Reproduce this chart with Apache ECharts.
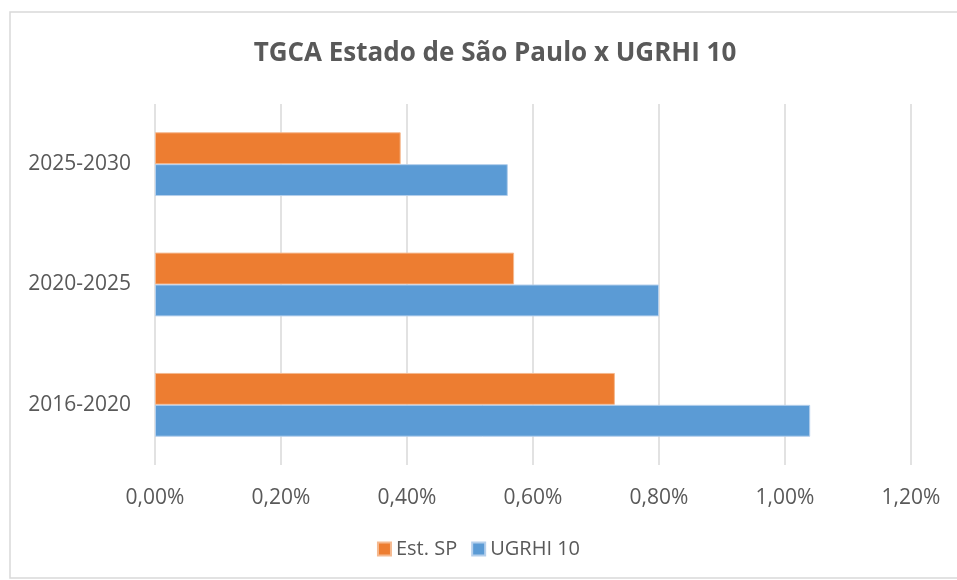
<!DOCTYPE html>
<html style="height: 100%">
    <head>
        <meta charset="utf-8">
        <title>TGCA Estado de São Paulo x UGRHI 10</title>
        <script type="text/javascript" src="https://fastly.jsdelivr.net/npm/echarts@6.0.0/dist/echarts.min.js"></script>
    </head>
    <body style="height: 100%; margin: 0; background: #fff">
        <div id="target" style="width: 957px; height: 580px"></div>

<script type="text/javascript">
// periods, bottom to top as in the picture
let periods = ["2016-2020", "2020-2025", "2025-2030"];
// growth rates in %
let estSP = [0.73, 0.57, 0.39];
let ugrhi10 = [1.04, 0.80, 0.56];
let xTicks = [0, 0.2, 0.4, 0.6, 0.8, 1.0, 1.2];

let chart = echarts.init(document.getElementById('target'));
let txt = "#595959";
let font = "Open Sans";

let fmtPct = (v) => v.toFixed(2).replace(".", ",") + "%";

let option = {
    animation: false,
    textStyle: { fontFamily: font },
    title: {
        text: "TGCA Estado de São Paulo x UGRHI 10",
        left: 490,
        top: 36,
        textAlign: "center",
        textStyle: { fontSize: 26, fontWeight: "bold", color: txt, fontFamily: font },
    },
    graphic: [
        {
            type: "rect",
            shape: { x: 10, y: 12, width: 960, height: 566 },
            style: { fill: "none", stroke: "#d9d9d9", lineWidth: 1.5 },
            silent: true,
        },
    ],
    legend: {
        data: ["Est. SP", "UGRHI 10"],
        bottom: 16,
        left: "center",
        itemWidth: 13,
        itemHeight: 13,
        itemGap: 14,
        icon: "rect",
        textStyle: { fontSize: 20, color: txt, fontFamily: font },
    },
    grid: {
        left: 155,
        right: 46,
        top: 104,
        bottom: 115,
        containLabel: false,
    },
    xAxis: {
        type: "value",
        min: xTicks[0],
        max: xTicks[xTicks.length - 1],
        interval: 0.2,
        axisLine: { show: false },
        axisTick: { show: false },
        splitLine: { lineStyle: { color: "#d9d9d9", width: 1.5 } },
        axisLabel: {
            margin: 23,
            fontSize: 21,
            color: txt,
            formatter: fmtPct,
        },
    },
    yAxis: {
        type: "category",
        data: periods,
        axisLine: { show: false },
        axisTick: { show: false },
        axisLabel: { margin: 24, fontSize: 21, color: txt },
    },
    series: [
        {
            name: "Est. SP",
            type: "bar",
            data: estSP,
            barGap: "0%",
            barCategoryGap: "47%",
            itemStyle: { color: "#ed7d31", borderColor: "#f5b98f", borderWidth: 1 },
        },
        {
            name: "UGRHI 10",
            type: "bar",
            data: ugrhi10,
            barGap: "0%",
            barCategoryGap: "47%",
            itemStyle: { color: "#5b9bd5", borderColor: "#b4cfec", borderWidth: 1 },
        },
    ],
};

chart.setOption(option);
</script>
    </body>
</html>
